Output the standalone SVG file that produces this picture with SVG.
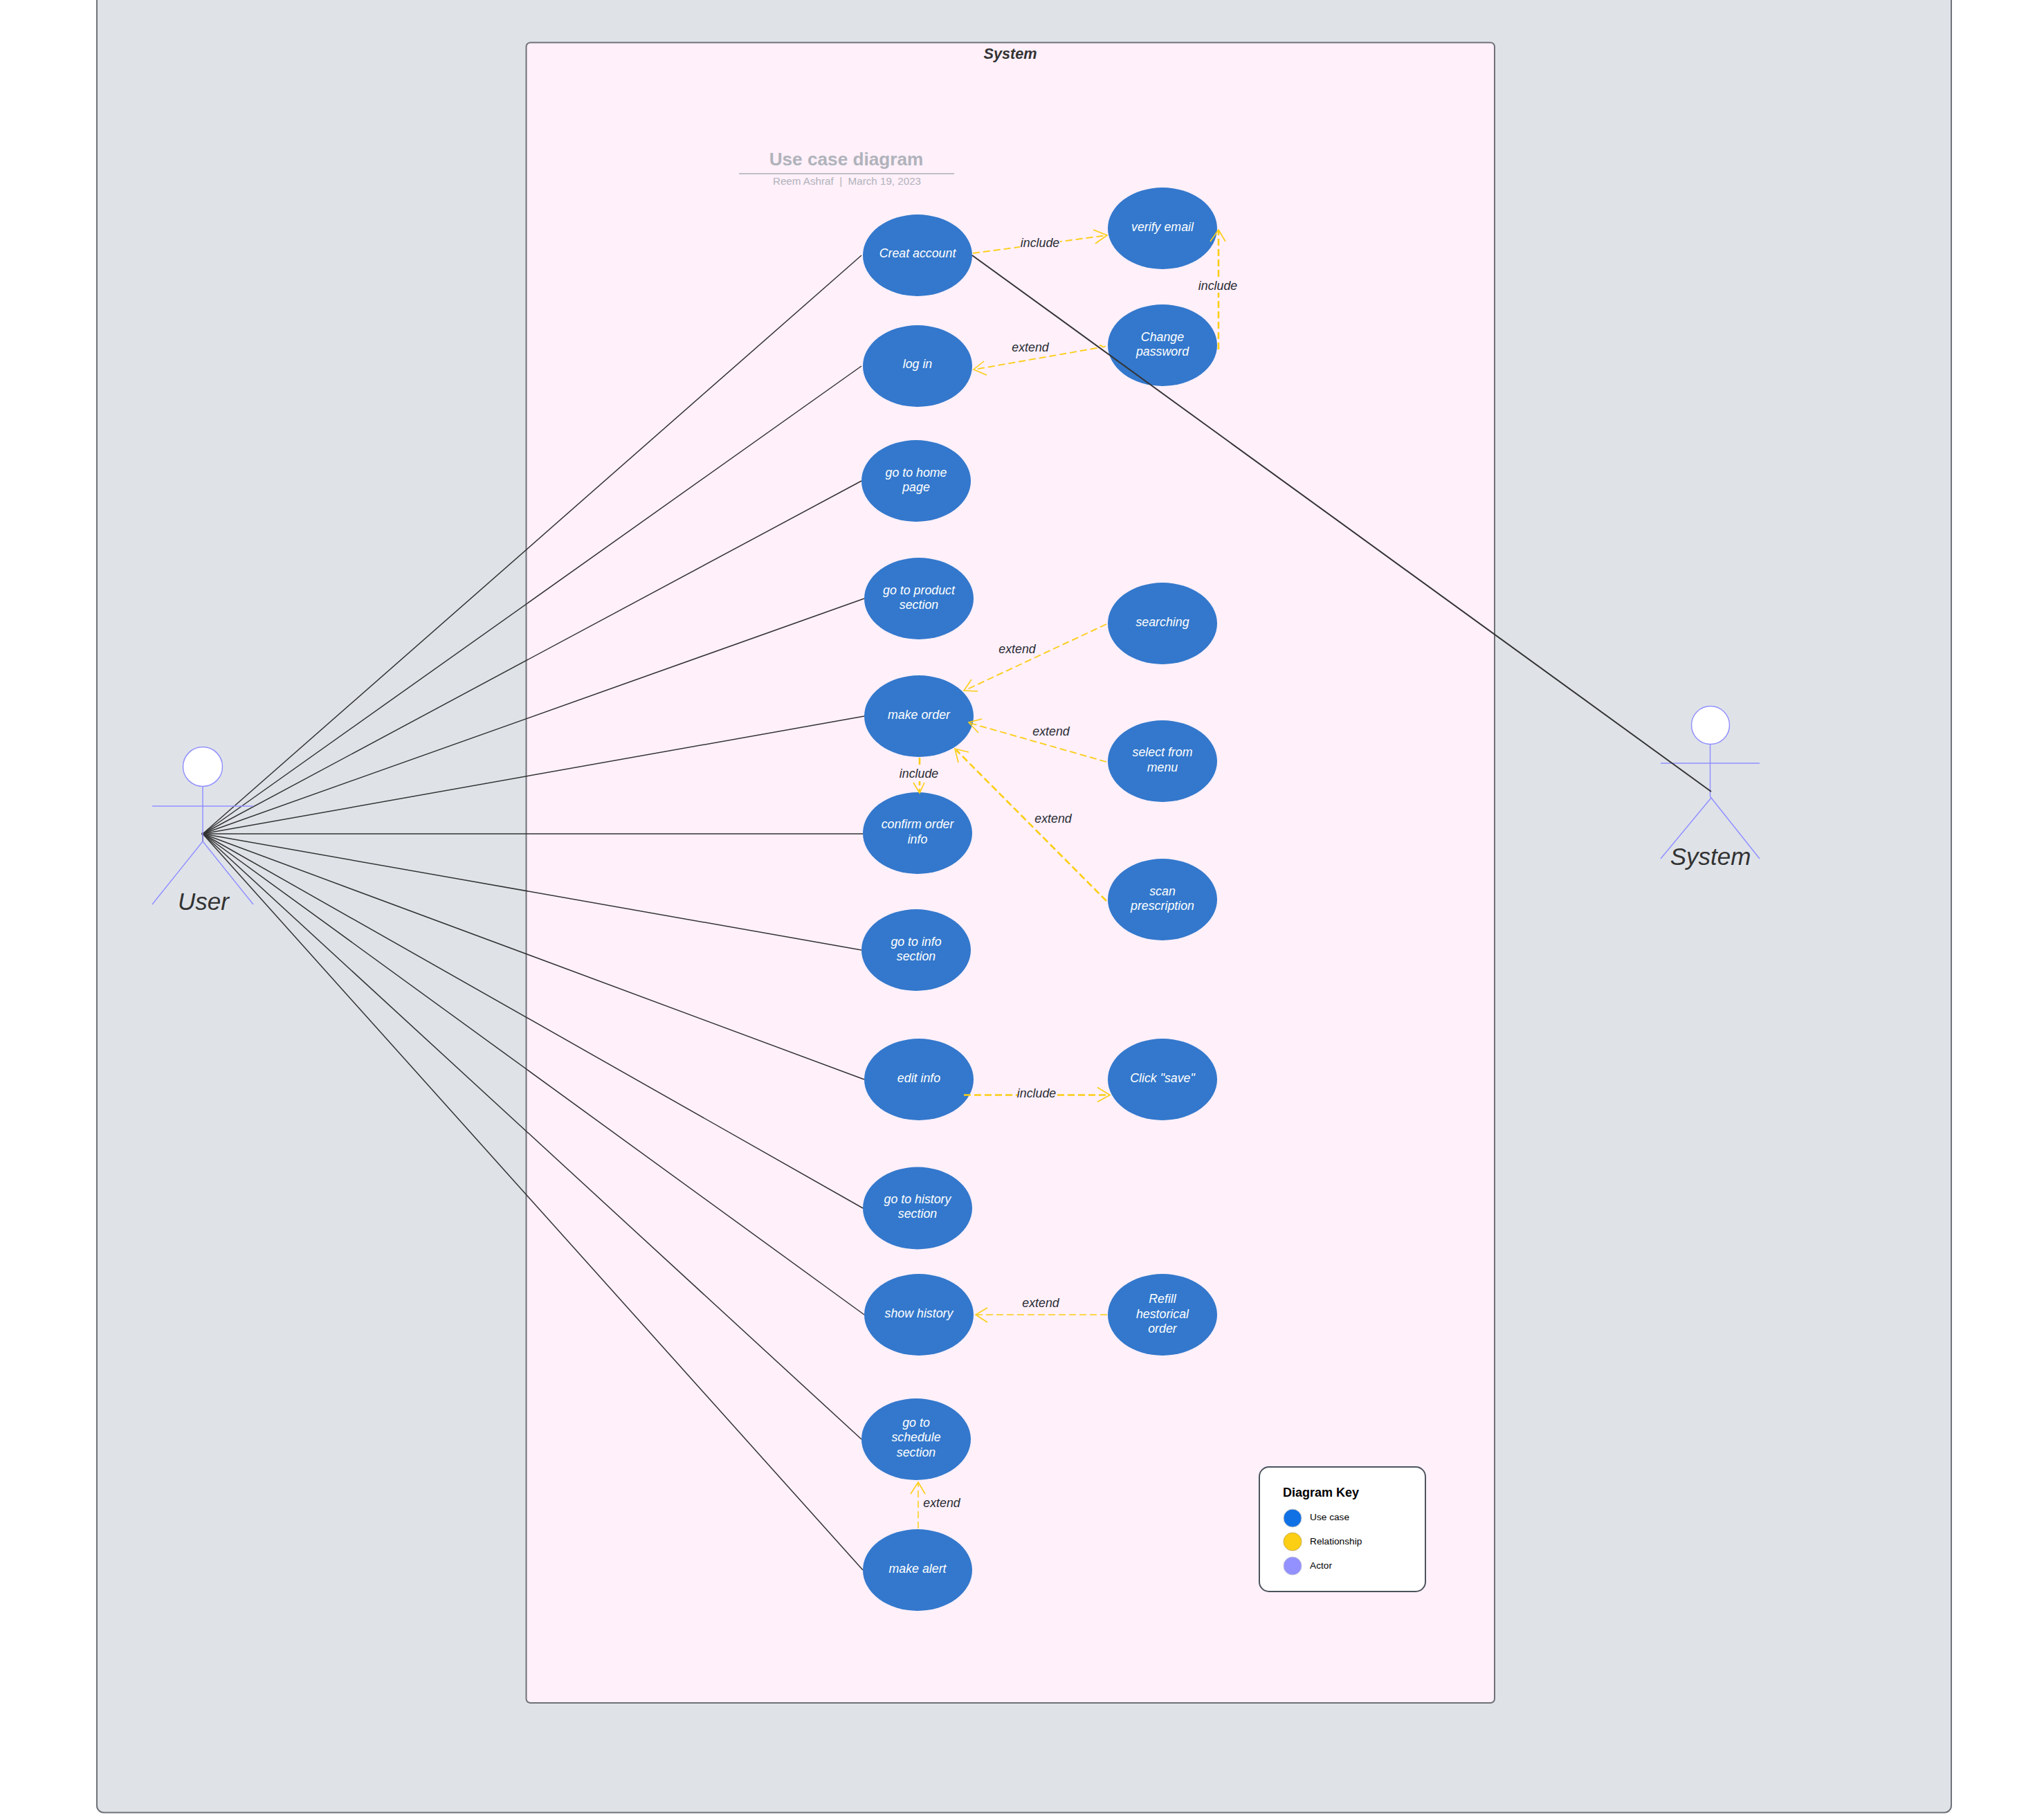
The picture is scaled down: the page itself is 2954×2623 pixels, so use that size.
<svg xmlns="http://www.w3.org/2000/svg" width="2954" height="2623" viewBox="0 0 2954 2623">
<style>
text{font-family:"Liberation Sans",Arial,sans-serif}
.uc{fill:#3378cc}
.ut{fill:#fff;font-size:17.8px;font-style:italic;text-anchor:middle}
.lb{fill:#282c33;font-size:17.8px;font-style:italic;text-anchor:middle}
.bg{fill:#fff0fa}
.assoc{fill:none;stroke:#333;stroke-width:1.5}
.dash{fill:none;stroke:#fcce14;stroke-width:1.8;stroke-dasharray:10 5}
.dash.thick{stroke-width:2.6}
.dash.thin{stroke-width:1.5}
.head{fill:none;stroke:#fcce14;stroke-width:1.6}
.act{fill:none;stroke:#9391ff;stroke-width:1.5}
.head-c{fill:#fff;stroke:#9391ff;stroke-width:1.5}
.actl{fill:#333;font-size:35px;font-style:italic;text-anchor:middle}
.kt{fill:#000;font-size:13.7px}
</style>
<rect width="2954" height="2623" fill="#fff"/>
<g id="frame"><rect x="140" y="-20" width="2680" height="2639.500" rx="10" fill="#dfe3e8" stroke="#6f7278" stroke-width="2"/></g>
<g id="system-boundary">
<rect x="760.500" y="61.500" width="1399.500" height="2399.500" rx="6" fill="#fff0fa" stroke="#6f7278" stroke-width="2"/>
<text x="1460" y="84.500" text-anchor="middle" font-size="21.7" font-weight="700" font-style="italic" fill="#333">System</text>
</g>
<g id="title">
<text x="1223" y="238.500" text-anchor="middle" font-size="26.200" font-weight="700" fill="#b0b3bb">Use case diagram</text>
<line x1="1068" y1="251" x2="1379" y2="251" stroke="#adb0b9" stroke-width="1.600"/>
<text x="1224" y="267" text-anchor="middle" font-size="15.200" fill="#b0b3bb" xml:space="preserve">Reem Ashraf  |  March 19, 2023</text>
</g>
<g id="connectors">
<g id="user-associations" class="assoc">
<line x1="293" y1="1205" x2="1245" y2="369"/>
<line x1="293" y1="1205" x2="1245" y2="529"/>
<line x1="293" y1="1205" x2="1245" y2="695"/>
<line x1="293" y1="1205" x2="1249" y2="865"/>
<line x1="293" y1="1205" x2="1249" y2="1035"/>
<line x1="293" y1="1205" x2="1247" y2="1205"/>
<line x1="293" y1="1205" x2="1245" y2="1373"/>
<line x1="293" y1="1205" x2="1249" y2="1560"/>
<line x1="293" y1="1205" x2="1247" y2="1746"/>
<line x1="293" y1="1205" x2="1249" y2="1900"/>
<line x1="293" y1="1205" x2="1245" y2="2080"/>
<line x1="293" y1="1205" x2="1247" y2="2269"/>
<circle cx="293" cy="1205" r="2" fill="#333" stroke="none"/>
<line x1="293" y1="1205" x2="293" y2="1216"/>
</g>
</g>
<g id="uc-creat"><ellipse class="uc" cx="1326" cy="369" rx="79" ry="59"/><text class="ut" x="1326" y="372">Creat account</text></g>
<g id="uc-verify"><ellipse class="uc" cx="1680" cy="330" rx="79" ry="59"/><text class="ut" x="1680" y="334">verify email</text></g>
<g id="uc-change"><ellipse class="uc" cx="1680" cy="499" rx="79" ry="59"/><text class="ut" x="1680" y="493">Change</text><text class="ut" x="1680" y="514">password</text></g>
<g id="uc-login"><ellipse class="uc" cx="1326" cy="529" rx="79" ry="59"/><text class="ut" x="1326" y="532">log in</text></g>
<g id="uc-home"><ellipse class="uc" cx="1324" cy="697" rx="79" ry="59" transform="translate(0 -2)"/><text class="ut" x="1324" y="689">go to home</text><text class="ut" x="1324" y="710">page</text></g>
<g id="uc-product"><ellipse class="uc" cx="1328" cy="865" rx="79" ry="59"/><text class="ut" x="1328" y="859">go to product</text><text class="ut" x="1328" y="880">section</text></g>
<g id="uc-order"><ellipse class="uc" cx="1328" cy="1035" rx="79" ry="59"/><text class="ut" x="1328" y="1039">make order</text></g>
<g id="uc-confirm"><ellipse class="uc" cx="1326" cy="1204" rx="79" ry="59"/><text class="ut" x="1326" y="1197">confirm order</text><text class="ut" x="1326" y="1219">info</text></g>
<g id="uc-info"><ellipse class="uc" cx="1324" cy="1373" rx="79" ry="59"/><text class="ut" x="1324" y="1367">go to info</text><text class="ut" x="1324" y="1388">section</text></g>
<g id="uc-edit"><ellipse class="uc" cx="1328" cy="1560" rx="79" ry="59"/><text class="ut" x="1328" y="1564">edit info</text></g>
<g id="uc-history"><ellipse class="uc" cx="1326" cy="1746" rx="79" ry="59.500"/><text class="ut" x="1326" y="1739">go to history</text><text class="ut" x="1326" y="1760">section</text></g>
<g id="uc-show"><ellipse class="uc" cx="1328" cy="1900" rx="79" ry="59"/><text class="ut" x="1328" y="1904">show history</text></g>
<g id="uc-schedule"><ellipse class="uc" cx="1324" cy="2080" rx="79" ry="59"/><text class="ut" x="1324" y="2061.500">go to</text><text class="ut" x="1324" y="2083">schedule</text><text class="ut" x="1324" y="2104.500">section</text></g>
<g id="uc-alert"><ellipse class="uc" cx="1326" cy="2269" rx="79" ry="59"/><text class="ut" x="1326" y="2273">make alert</text></g>
<g id="uc-searching"><ellipse class="uc" cx="1680" cy="901" rx="79" ry="59"/><text class="ut" x="1680" y="905">searching</text></g>
<g id="uc-select"><ellipse class="uc" cx="1680" cy="1100" rx="79" ry="59"/><text class="ut" x="1680" y="1093">select from</text><text class="ut" x="1680" y="1115">menu</text></g>
<g id="uc-scan"><ellipse class="uc" cx="1680" cy="1300" rx="79" ry="59"/><text class="ut" x="1680" y="1294">scan</text><text class="ut" x="1680" y="1315">prescription</text></g>
<g id="uc-save"><ellipse class="uc" cx="1680" cy="1560" rx="79" ry="59"/><text class="ut" x="1680" y="1564">Click "save"</text></g>
<g id="uc-refill"><ellipse class="uc" cx="1680" cy="1900" rx="79" ry="59"/><text class="ut" x="1680" y="1883">Refill</text><text class="ut" x="1680" y="1905">hestorical</text><text class="ut" x="1680" y="1926">order</text></g>
<g id="actor-user">
<circle class="head-c" cx="293" cy="1108" r="28.500"/>
<path class="act" d="M293 1137V1216M220 1165H366M220 1307L293 1216L366 1307"/>
<text class="actl" x="294" y="1315">User</text>
</g>
<g id="actor-system">
<circle class="head-c" cx="2472" cy="1048" r="27.500"/>
<path class="act" d="M2471.500 1076V1150L2473 1154M2400 1103H2543M2400 1241L2473 1153L2543 1241"/>
<text class="actl" x="2472" y="1250">System</text>
</g>
<g id="relationships">
<line class="assoc" x1="1405" y1="369" x2="2473" y2="1144" style="stroke-width:2"/>
<line class="dash" x1="1406" y1="366" x2="1600" y2="340"/><polyline class="head" points="1580,332 1600,340 1583,352"/>
<rect class="bg" x="1474" y="340" width="58" height="22"/><text class="lb" x="1503" y="357">include</text>
<line class="dash thick" x1="1761" y1="505" x2="1761" y2="333"/><polyline class="head" points="1749,349 1761,332 1771,349"/>
<rect class="bg" x="1731" y="403" width="58" height="20"/><text class="lb" x="1760" y="419">include</text>
<path class="dash" d="M1598 500.500L1594 501.500A5 5 0 0 0 1585 503L1408 534"/><polyline class="head" points="1422,522 1407,534 1426,542"/>
<text class="lb" x="1489" y="508">extend</text>
<line class="dash" x1="1599" y1="902" x2="1396" y2="997"/><polyline class="head" points="1404,982 1393,998 1413,999"/>
<text class="lb" x="1470" y="944">extend</text>
<line class="dash" x1="1599" y1="1101" x2="1402" y2="1045"/><polyline class="head" points="1419,1039 1400,1044 1414,1059"/>
<text class="lb" x="1519" y="1063">extend</text>
<line class="dash thick" x1="1599" y1="1302" x2="1382" y2="1084"/><polyline class="head" points="1400,1087 1380,1082 1385,1102"/>
<text class="lb" x="1522" y="1189">extend</text>
<line class="dash thick" x1="1329" y1="1095" x2="1329" y2="1144"/><polyline class="head" points="1320,1131 1329,1146 1336,1131"/>
<rect class="bg" x="1299" y="1108" width="58" height="21"/><text class="lb" x="1328" y="1124">include</text>
<line class="dash thick" x1="1393" y1="1582.500" x2="1602" y2="1582.500"/><polyline class="head" points="1586,1571.500 1604,1582.500 1586,1592.500"/>
<rect class="bg" x="1471" y="1568" width="56" height="22"/><text class="lb" x="1498" y="1585.500">include</text>
<line class="dash thin" x1="1600" y1="1900" x2="1412" y2="1900"/><polyline class="head" points="1427,1890 1410,1900 1427,1911"/>
<text class="lb" x="1504" y="1889">extend</text>
<line class="dash thin" x1="1327" y1="2209" x2="1327" y2="2144"/><polyline class="head" points="1316,2159 1327,2142 1337,2159"/>
<text class="lb" x="1361" y="2178">extend</text>
</g>
<g id="legend">
<rect x="1820" y="2120" width="240" height="180" rx="14" fill="#fff" stroke="#4c535d" stroke-width="2"/>
<text x="1854" y="2163" font-size="18" font-weight="700" fill="#000">Diagram Key</text>
<circle cx="1868" cy="2194" r="13" fill="#1071e5" stroke="#c8c8c8"/>
<text class="kt" x="1893" y="2197">Use case</text>
<circle cx="1868" cy="2228" r="13" fill="#fcce14" stroke="#c8b050"/>
<text class="kt" x="1893" y="2232">Relationship</text>
<circle cx="1868" cy="2263" r="13" fill="#9391ff" stroke="#c0c0d8"/>
<text class="kt" x="1893" y="2267">Actor</text>
</g>
</svg>
